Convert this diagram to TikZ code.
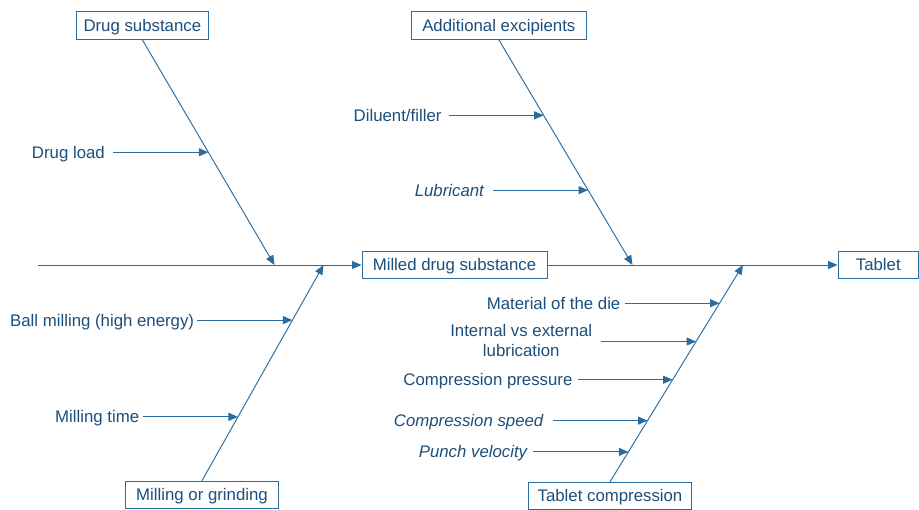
\documentclass[tikz,border=0pt]{standalone}
\usepackage{fontspec}
\setmainfont{Liberation Sans}
\usetikzlibrary{calc,arrows.meta}
\definecolor{inkblue}{RGB}{28,79,124}
\definecolor{lineblue}{RGB}{43,108,158}
\tikzset{
  labelfont/.style={font=\fontsize{16.8}{20.3}\selectfont},
  stage/.style={labelfont, draw=lineblue, line width=1pt, text=inkblue, inner sep=0pt,
    minimum height=27.6pt, text height=12pt, text depth=0pt},
  factor/.style={labelfont, text=inkblue, inner sep=0pt, anchor=east,
    text height=12pt, text depth=0pt},
  factortwo/.style={labelfont, text=inkblue, inner sep=0pt, anchor=east, align=center},
  flow/.style={draw=lineblue, line width=0.95pt, -{Triangle[length=9.5pt,width=8pt]}},
}
\begin{document}
\begin{tikzpicture}[x=1pt,y=-1pt]
\fill[white] (0,0) rectangle (919,510);
\useasboundingbox (0,0) rectangle (919,510);

% stage boxes
\node[stage, minimum width=131.3pt] (ds) at (142.35,25.5) {Drug substance};
\node[stage, minimum width=174.3pt] (ae) at (498.85,25.5) {Additional excipients};
\node[stage, minimum width=185pt] (milled) at (454.5,265) {Milled drug substance};
\node[stage, minimum width=80.5pt] (tablet) at (878.25,265) {Tablet};
\node[stage, minimum width=152.6pt] (mg) at (202,495) {Milling or grinding};
\node[stage, minimum width=163pt, minimum height=27pt] (tc) at (610,495.8) {Tablet compression};

% spine
\coordinate (start) at (38.3,265);
\draw[flow] (start) -- (milled.west);
\draw[flow] (milled.east) -- (tablet.west);

% branch ends on the spine
\coordinate (dsend) at (274.5,265);
\coordinate (mgend) at (323.5,265);
\coordinate (aeend) at (632.5,265);
\coordinate (tcend) at (743,265);

\draw[flow] (ds.south) -- (dsend);
\draw[flow] (ae.south) -- (aeend);
\draw[flow] (mg.north) -- (mgend);
\draw[flow] (tc.north) -- (tcend);

% points where the factor arrows meet the branches
\coordinate (p1) at ($(ds.south)!0.4993!(dsend)$);
\coordinate (p2) at ($(ae.south)!0.3354!(aeend)$);
\coordinate (p3) at ($(ae.south)!0.6677!(aeend)$);
\coordinate (p4) at ($(mg.north)!0.7443!(mgend)$);
\coordinate (p5) at ($(mg.north)!0.2959!(mgend)$);
\coordinate (p6) at ($(tc.north)!0.8237!(tcend)$);
\coordinate (p7) at ($(tc.north)!0.647!(tcend)$);
\coordinate (p8) at ($(tc.north)!0.4708!(tcend)$);
\coordinate (p9) at ($(tc.north)!0.2821!(tcend)$);
\coordinate (p10) at ($(tc.north)!0.138!(tcend)$);

% factor labels
\node[factor] (f1) at ($(p1)+(-103.3,0)$) {Drug load};
\node[factor] (f2) at ($(p2)+(-102,0)$) {Diluent/filler};
\node[factor] (f3) at ($(p3)+(-104,0)$) {\itshape Lubricant};
\node[factor] (f4) at ($(p4)+(-98.1,0)$) {Ball milling (high energy)};
\node[factor] (f5) at ($(p5)+(-98.6,0)$) {Milling time};
\node[factor] (f6) at ($(p6)+(-99,0)$) {Material of the die};
\node[factortwo] (f7) at ($(p7)+(-103.6,-0.8)$) {Internal vs external\\lubrication};
\node[factor] (f8) at ($(p8)+(-100,0)$) {Compression pressure};
\node[factor] (f9) at ($(p9)+(-104,0)$) {\itshape Compression speed};
\node[factor] (f10) at ($(p10)+(-101,0)$) {\itshape Punch velocity};

% factor arrows
\draw[flow] (f1.east) ++(8.3,0) -- (p1);
\draw[flow] (f2.east) ++(7,0) -- (p2);
\draw[flow] (f3.east) ++(9,0) -- (p3);
\draw[flow] (f4.east) ++(3.1,0) -- (p4);
\draw[flow] (f5.east) ++(3.6,0) -- (p5);
\draw[flow] (f6.east) ++(4,0) -- (p6);
\draw[flow] (f7.east) ++(8.6,0.8) -- (p7);
\draw[flow] (f8.east) ++(5,0) -- (p8);
\draw[flow] (f9.east) ++(9,0) -- (p9);
\draw[flow] (f10.east) ++(6,0) -- (p10);
\end{tikzpicture}
\end{document}
